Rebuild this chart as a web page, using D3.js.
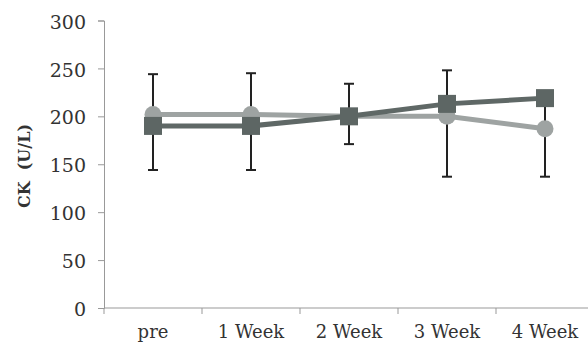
<!DOCTYPE html>
<html>
<head>
<meta charset="utf-8">
<script src="https://cdn.jsdelivr.net/npm/d3@7"></script>
<style>
  body { margin: 0; background: #fff; }
  text { font-family: "DejaVu Serif", "Liberation Serif", serif; fill: #333; }
</style>
</head>
<body>
<script>
var categories = ["pre", "1 Week", "2 Week", "3 Week", "4 Week"];
var circleValues = [202, 202, 200, 200, 187];
var squareValues = [190, 190, 200, 213, 219];
var errUpper = [244, 245, 234, 248, 219];
var errLower = [144, 144, 171, 137, 137];
var yTicks = [0, 50, 100, 150, 200, 250, 300];

var width = 588, height = 343;

var svg = d3.select("body").append("svg")
    .attr("width", width)
    .attr("height", height);

var x = d3.scaleBand()
    .domain(categories)
    .range([104, 594])
    .padding(0);

var y = d3.scaleLinear()
    .domain([0, 300])
    .range([308, 20.5]);

var cx = function(d, i){ return x(categories[i]) + x.bandwidth() / 2; };

// y axis
var yAxis = svg.append("g")
    .attr("transform", "translate(104,0)")
    .call(d3.axisLeft(y).tickValues(yTicks).tickSize(6).tickPadding(12));
yAxis.select(".domain").attr("stroke", "#999");
yAxis.selectAll(".tick line").attr("stroke", "#999");
yAxis.selectAll(".tick text")
    .style("font-size", "19px")
    .attr("dy", "0.4em");

// x axis with ticks on band edges
var xAxis = svg.append("g")
    .attr("transform", "translate(0,308)");
xAxis.append("line")
    .attr("x1", 104).attr("x2", 594)
    .attr("stroke", "#999");
xAxis.selectAll("line.tk")
    .data(categories)
    .enter().append("line")
    .attr("class", "tk")
    .attr("x1", function(d){ return x(d); })
    .attr("x2", function(d){ return x(d); })
    .attr("y1", 0).attr("y2", 6)
    .attr("stroke", "#999");
xAxis.selectAll("text")
    .data(categories)
    .enter().append("text")
    .attr("x", function(d){ return x(d) + x.bandwidth() / 2; })
    .attr("y", 30)
    .attr("text-anchor", "middle")
    .style("font-size", "18px")
    .text(function(d){ return d; });

// y label
svg.append("text")
    .attr("transform", "translate(30,166) rotate(-90)")
    .attr("text-anchor", "middle")
    .style("font-size", "16px")
    .style("font-weight", "bold")
    .style("white-space", "pre")
    .text("CK  (U/L)");

// error bars
var eb = svg.append("g").attr("stroke", "#222").attr("stroke-width", 2);
eb.selectAll("line.v")
    .data(errUpper)
    .enter().append("line")
    .attr("x1", cx).attr("x2", cx)
    .attr("y1", function(d){ return y(d); })
    .attr("y2", function(d, i){ return y(errLower[i]); });
eb.selectAll("line.top")
    .data(errUpper)
    .enter().append("line")
    .attr("x1", function(d, i){ return cx(d, i) - 5; })
    .attr("x2", function(d, i){ return cx(d, i) + 5; })
    .attr("y1", function(d){ return y(d); })
    .attr("y2", function(d){ return y(d); });
eb.selectAll("line.bot")
    .data(errLower)
    .enter().append("line")
    .attr("x1", function(d, i){ return cx(d, i) - 5; })
    .attr("x2", function(d, i){ return cx(d, i) + 5; })
    .attr("y1", function(d){ return y(d); })
    .attr("y2", function(d){ return y(d); });

var line = d3.line()
    .x(cx)
    .y(function(d){ return y(d); });

svg.append("path")
    .datum(circleValues)
    .attr("d", line)
    .attr("fill", "none")
    .attr("stroke", "#9ea3a2")
    .attr("stroke-width", 5);

svg.append("path")
    .datum(squareValues)
    .attr("d", line)
    .attr("fill", "none")
    .attr("stroke", "#5f6866")
    .attr("stroke-width", 5);

svg.selectAll("circle.pt")
    .data(circleValues)
    .enter().append("circle")
    .attr("class", "pt")
    .attr("cx", cx)
    .attr("cy", function(d){ return y(d); })
    .attr("r", 8.5)
    .attr("fill", "#9ea3a2");

svg.selectAll("rect.pt")
    .data(squareValues)
    .enter().append("rect")
    .attr("class", "pt")
    .attr("x", function(d, i){ return cx(d, i) - 9; })
    .attr("y", function(d){ return y(d) - 9; })
    .attr("width", 18)
    .attr("height", 18)
    .attr("fill", "#5d6664");
</script>
</body>
</html>
